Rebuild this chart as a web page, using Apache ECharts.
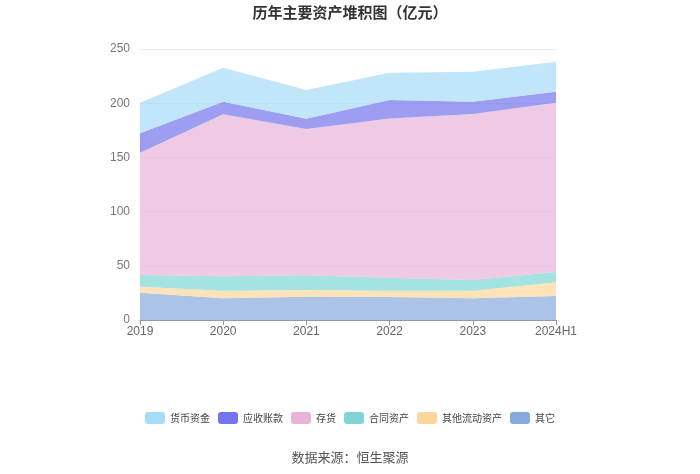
<!DOCTYPE html>
<html><head><meta charset="utf-8">
<script src="https://cdn.jsdelivr.net/npm/echarts@6/dist/echarts.min.js"></script>
<style>html,body{margin:0;padding:0;background:#fff}#c{width:700px;height:474px}</style>
</head><body><div id="c"></div>
<script>
const categories = ['2019','2020','2021','2022','2023','2024H1'];
const qita = [25.2, 20.0, 21.5, 21.2, 20.0, 22.1];
const qitaLiudong = [5.5, 7.0, 6.2, 5.8, 7.0, 12.7];
const hetongZichan = [10.8, 13.3, 13.5, 12.0, 9.9, 9.5];
const cunhuo = [112.8, 149.5, 135.0, 147.0, 153.1, 156.2];
const yingshou = [17.9, 11.6, 9.5, 17.0, 11.4, 10.1];
const huobi = [28.3, 31.4, 26.5, 25.1, 27.6, 27.7];
const yTicks = [0, 50, 100, 150, 200, 250];

const names = ['货币资金','应收账款','存货','合同资产','其他流动资产','其它'];
const colors = ['#a6dcf8','#7474ec','#e7b3d9','#7fd5d5','#fdd79a','#88a9dc'];
const dataMap = {'货币资金':huobi,'应收账款':yingshou,'存货':cunhuo,'合同资产':hetongZichan,'其他流动资产':qitaLiudong,'其它':qita};
const order = ['其它','其他流动资产','合同资产','存货','应收账款','货币资金'];

const chart = echarts.init(document.getElementById('c'));
chart.setOption({
  animation:false,
  title:{text:'历年主要资产堆积图（亿元）',left:'center',top:0,textStyle:{fontSize:15,fontWeight:'bold',color:'#333',fontFamily:'Noto Sans CJK SC'}},
  legend:{data:names,bottom:45,icon:'roundRect',itemWidth:20,itemHeight:12,itemGap:8,textStyle:{fontSize:10,color:'#444',fontFamily:'Noto Sans CJK SC'}},
  grid:{left:140,right:144,top:49,bottom:154},
  xAxis:{type:'category',data:categories,boundaryGap:false,
    axisLine:{lineStyle:{color:'#999'}},axisTick:{show:true,lineStyle:{color:'#999'}},
    axisLabel:{color:'#666',fontSize:12,margin:6}},
  yAxis:{type:'value',min:yTicks[0],max:yTicks[yTicks.length-1],interval:50,
    axisLine:{show:false},axisTick:{show:false},
    axisLabel:{color:'#777',fontSize:12,margin:10},
    splitLine:{lineStyle:{color:'#e6eaf3'}}},
  series: order.map(n=>({
    name:n,type:'line',stack:'total',data:dataMap[n],symbol:'none',
    lineStyle:{width:0},
    itemStyle:{color:colors[names.indexOf(n)]},
    areaStyle:{color:colors[names.indexOf(n)],opacity:0.7}
  })),
  graphic:[{type:'text',left:'center',top:451,style:{text:'数据来源：恒生聚源',fill:'#555',fontSize:13,fontFamily:'Noto Sans CJK SC'}}]
});
</script></body></html>
